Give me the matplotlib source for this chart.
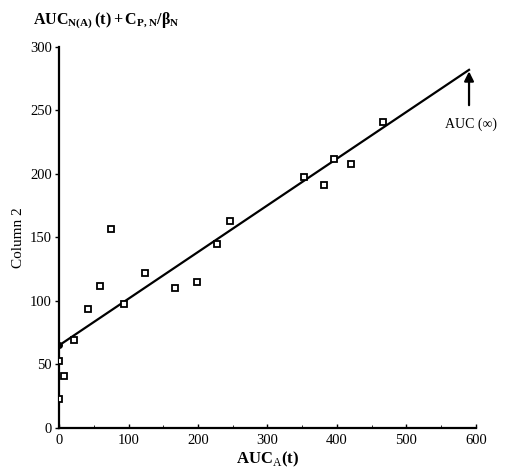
import matplotlib
matplotlib.use('Agg')
import matplotlib.pyplot as plt

plt.rcParams['font.family'] = ['Liberation Serif', 'DejaVu Serif']
plt.rcParams['mathtext.fontset'] = 'custom'
plt.rcParams['mathtext.rm'] = 'Liberation Serif'
plt.rcParams['mathtext.bf'] = 'Liberation Serif:bold'

# points
auc_a = [0, 0, 7, 22, 42, 59, 75, 93, 124, 167, 198, 227, 246, 353, 381, 396, 420, 466]
column2 = [23, 53, 41, 69, 94, 112, 157, 98, 122, 110, 115, 145, 163, 198, 191, 212, 208, 241]

# regression line end points
fit_x = [0, 590]
fit_y = [65, 282]

x_ticks = [0, 100, 200, 300, 400, 500, 600]
y_ticks = [0, 50, 100, 150, 200, 250, 300]

fig = plt.figure(figsize=(5.1, 4.68), dpi=100)
ax = fig.add_axes([0.1157, 0.0855, 0.8176, 0.8141])

ax.plot(fit_x, fit_y, color='black', lw=1.6, marker='o', markersize=4, markevery=[0])
ax.plot(auc_a, column2, linestyle='none', marker='s', markersize=4.6,
        markerfacecolor='white', markeredgecolor='black', markeredgewidth=1.3)

# arrow marking AUC(inf)
ax.annotate('', xy=(590, 283), xytext=(590, 252),
            arrowprops=dict(arrowstyle='-|>', color='black', lw=1.6, mutation_scale=14))
ax.text(593, 239, 'AUC (\u221e)', ha='center', va='center', fontsize=10)

ax.set_xlim(0, 600)
ax.set_ylim(0, 300)
ax.set_xticks(x_ticks)
ax.set_yticks(y_ticks)
ax.set_xticks([50, 150, 250, 350, 450, 550], minor=True)
ax.tick_params(axis='both', labelsize=10.5, length=3, width=1, pad=2)
ax.tick_params(axis='x', direction='in', pad=4)
ax.tick_params(axis='x', which='minor', direction='in', length=2)

for side in ['top', 'right']:
    ax.spines[side].set_visible(False)
for side in ['left', 'bottom']:
    ax.spines[side].set_linewidth(1.6)
ax.spines['left'].set_zorder(0)

ax.set_xlabel('AUC$_{\\mathrm{A}}$(t)', fontsize=12, fontweight='bold', labelpad=2)
ax.set_ylabel('Column 2', fontsize=11, labelpad=4)

fig.text(0.065, 0.955,
         r'$\mathbf{AUC}_{\mathbf{N(A)}}\,\mathbf{(t)}\,\mathbf{+}\,\mathbf{C}_{\mathbf{P,N}}\mathbf{/\beta}_{\mathbf{N}}$',
         fontsize=11.5, ha='left', va='center')

fig.savefig('out.png', dpi=100)
